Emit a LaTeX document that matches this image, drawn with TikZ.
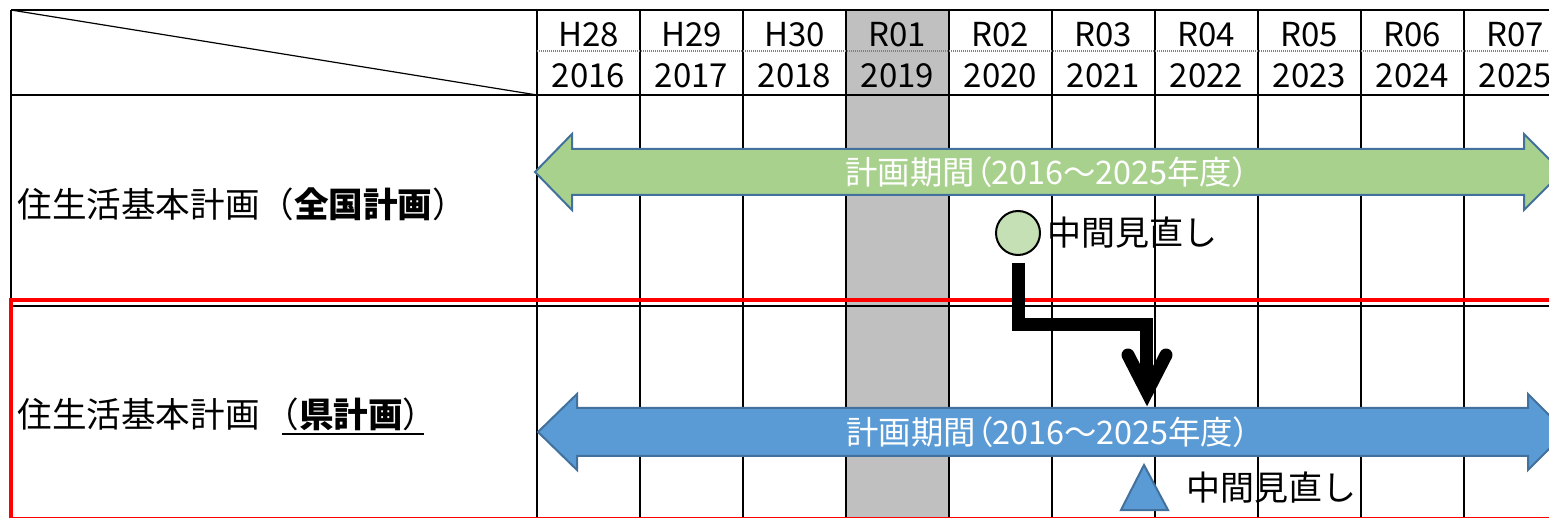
\documentclass[tikz,border=0pt]{standalone}
\usepackage{fontspec}
\newfontfamily\jp{Noto Sans CJK JP}
\newfontfamily\jpp[RawFeature=+palt]{Noto Sans CJK JP}
\usetikzlibrary{arrows.meta}
\definecolor{colgray}{HTML}{C0C0C0}
\definecolor{greenfill}{HTML}{A9D18E}
\definecolor{bluefill}{HTML}{5B9BD5}
\definecolor{edgeblue}{HTML}{41719C}
\definecolor{circfill}{HTML}{C5E0B4}
\definecolor{redline}{HTML}{FF0000}
\begin{document}
\begin{tikzpicture}[x=0.5pt,y=-0.5pt,
  gridline/.style={black,line width=1pt},
  dotline/.style={gray,line width=1pt,dash pattern=on 0.5pt off 0.5pt},
  hdr/.style={font=\jp\fontsize{16.5}{16.5}\selectfont,inner sep=0pt},
  rowlabel/.style={font=\jp\fontsize{17.3}{17.3}\selectfont,inner sep=0pt,anchor=west},
  bartext/.style={font=\jpp\fontsize{16.2}{16.2}\selectfont,text=white,inner sep=0pt},
  note/.style={font=\jp\fontsize{17}{17}\selectfont,inner sep=0pt,anchor=west},
  period/.style={draw=edgeblue,line width=1pt,line join=miter},
  conn/.style={black,line width=6.5pt,line join=miter,line cap=butt}]
\useasboundingbox (0,0) rectangle (1549,518);
\clip (0,0) rectangle (1549,518);
\fill[white] (0,0) rectangle (1549,518);
% highlighted year column
\fill[colgray] (846,10) rectangle (948,530);
% grid
\draw[gridline] (11,10) -- (1600,10);
\draw[gridline] (11,95) -- (1600,95);
\draw[gridline] (11,306) -- (1600,306);
\draw[gridline] (11,10) -- (11,530);
\foreach \i in {0,...,10} \draw[gridline] ({537+103*\i},10) -- ({537+103*\i},530);
\draw[dotline] (537,51) -- (1600,51);
\draw[black,line width=0.6pt] (11,10) -- (537,95);
% header labels
\foreach \h/\yr [count=\i from 0] in {H28/2016,H29/2017,H30/2018,R01/2019,R02/2020,R03/2021,R04/2022,R05/2023,R06/2024,R07/2025}{
  \node[hdr] (h\i) at ({588.5+103*\i},35) {\h};
  \node[hdr] (y\i) at ({588.5+103*\i},76) {\yr};
}
% red frame
\draw[redline,line width=2pt] (11,300) rectangle (1620,519);
% row labels
\node[rowlabel] (lab1) at (17,204) {住生活基本計画（{\bfseries 全国計画}）};
\node[rowlabel] (lab2a) at (17,414) {住生活基本計画};
\node[rowlabel] (lab2b) at ([xshift=2pt]lab2a.east) {（{\bfseries 県計画}）};
\draw[black,line width=1pt] ([xshift=9pt,yshift=-1.5pt]lab2b.south west) -- ([xshift=-7pt,yshift=-1.5pt]lab2b.south east);
% national plan period
\draw[period,fill=greenfill] (535,172) -- (572,134) -- (572,149) -- (1524,149) -- (1524,134) -- (1562,172) -- (1524,210) -- (1524,195) -- (572,195) -- (572,210) -- cycle;
\node[bartext] (gtext) at (1047,172) {計画期間（2016～2025年度）};
% prefectural plan period
\draw[period,fill=bluefill] (538,432) -- (577,394) -- (577,408) -- (1528,408) -- (1528,394) -- (1566,432) -- (1528,470) -- (1528,456) -- (577,456) -- (577,470) -- cycle;
\node[bartext] (btext) at (1048,432) {計画期間（2016～2025年度）};
% mid-term review marks
\node[circle,draw=black,line width=1pt,fill=circfill,minimum size=22pt,inner sep=0pt] (c1) at (1018,233) {};
\node[note] (n1) at (1047,233) {中間見直し};
\draw[period,fill=bluefill] (1144,465) -- (1168,510) -- (1121,510) -- cycle;
\coordinate (tri) at (1144,488);
\node[note] (n2) at (1186,488) {中間見直し};
% connector
\coordinate (tip) at (1146,388);
\draw[conn] ([yshift=-3.5pt]c1.south) -- ++(0,62) -| (tip);
\draw[conn,line cap=round] (1128,355) -- (1147,392) -- (1166,355);
\end{tikzpicture}
\end{document}
